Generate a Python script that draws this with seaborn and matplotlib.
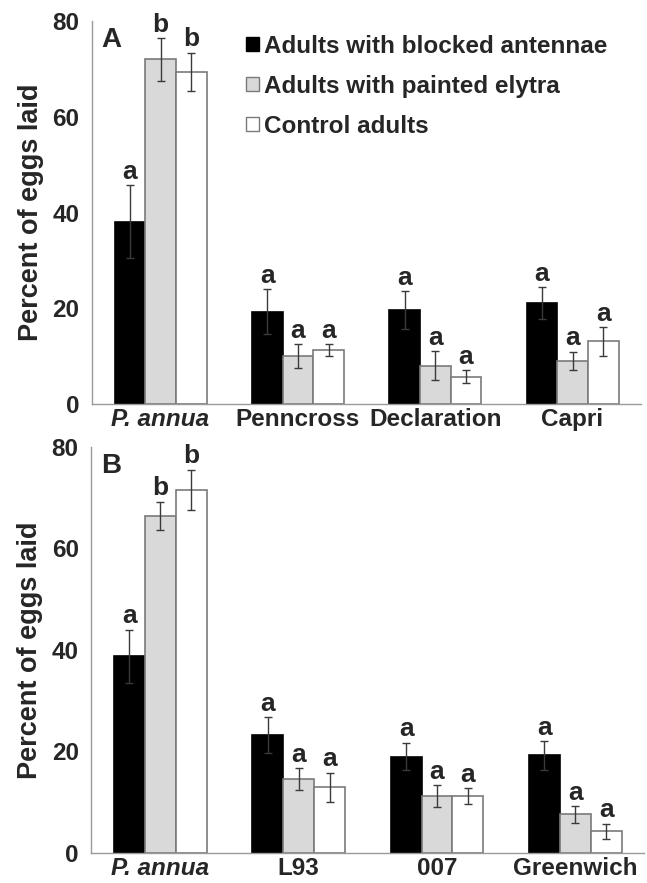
#!/usr/bin/env python3
"""
Percent of eggs laid by treatment and cultivar (panels A and B)
"""

import pandas as pd
import matplotlib
matplotlib.use('Agg')
import matplotlib.pyplot as plt
import seaborn as sns
from matplotlib.patches import Patch

sns.set_style('white')
plt.rcParams['font.family'] = ['Liberation Sans', 'DejaVu Sans']
plt.rcParams['font.weight'] = 'bold'

# 데이터
treatments = ['Adults with blocked antennae', 'Adults with painted elytra', 'Control adults']

cultivars_a = ['P. annua', 'Penncross', 'Declaration', 'Capri']
blocked_a = [38.1, 19.3, 19.6, 21.1]
blocked_a_se = [7.6, 4.7, 4.0, 3.3]
painted_a = [72.0, 10.0, 8.0, 9.0]
painted_a_se = [4.5, 2.5, 3.0, 1.9]
control_a = [69.4, 11.3, 5.7, 13.1]
control_a_se = [4.0, 1.2, 1.4, 3.0]
letters_a = [['a', 'a', 'a', 'a'], ['b', 'a', 'a', 'a'], ['b', 'a', 'a', 'a']]

cultivars_b = ['P. annua', 'L93', '007', 'Greenwich']
blocked_b = [38.7, 23.2, 19.0, 19.2]
blocked_b_se = [5.3, 3.5, 2.7, 2.8]
painted_b = [66.4, 14.6, 11.2, 7.6]
painted_b_se = [2.8, 2.1, 2.2, 1.6]
control_b = [71.5, 12.9, 11.2, 4.3]
control_b_se = [4.0, 2.9, 1.6, 1.5]
letters_b = [['a', 'a', 'a', 'a'], ['b', 'a', 'a', 'a'], ['b', 'a', 'a', 'a']]

fills = ['black', '#d9d9d9', 'white']
edges = ['black', '#7a7a7a', '#7a7a7a']
axis_gray = '#9a9a9a'


def make_frame(cultivars, means, ses):
    rows = []
    for t, vals, errs in zip(treatments, means, ses):
        for c, v, e in zip(cultivars, vals, errs):
            rows.append({'cultivar': c, 'treatment': t, 'pct': v, 'se': e})
    return pd.DataFrame(rows)


def draw_panel(ax, cultivars, means, ses, letters, tag, show_legend):
    df = make_frame(cultivars, means, ses)
    sns.barplot(data=df, x='cultivar', y='pct', hue='treatment',
                order=cultivars, hue_order=treatments,
                palette=dict(zip(treatments, fills)), saturation=1,
                errorbar=None, width=0.67, gap=0, linewidth=1.2,
                legend=False, ax=ax)

    # 막대 테두리, 오차막대, 유의 문자
    for container, edge, errs, lets in zip(ax.containers, edges, ses, letters):
        for bar, se, let in zip(container, errs, lets):
            bar.set_edgecolor(edge)
            x = bar.get_x() + bar.get_width() / 2
            h = bar.get_height()
            ax.errorbar(x, h, yerr=se, fmt='none', ecolor='#3a3a3a',
                        elinewidth=1, capsize=3, capthick=1)
            ax.annotate(let, (x, h + se), xytext=(0, 1), textcoords='offset points',
                        ha='center', va='bottom', fontsize=19, fontweight='bold')

    ax.set_xlim(-0.5, 3.5)
    ax.set_ylim(0, 80)
    ax.set_yticks([0, 20, 40, 60, 80])
    ax.set_yticks([10, 30, 50, 70], minor=True)
    ax.set_xticks(range(len(cultivars)))
    ax.set_xticks([-0.5, 0.5, 1.5, 2.5, 3.5], minor=True)
    ax.set_xticklabels(cultivars, fontsize=17.5, fontweight='bold')
    ax.get_xticklabels()[0].set_style('italic')
    ax.tick_params(axis='x', which='major', length=0, pad=3)
    ax.tick_params(axis='x', which='minor', length=8, width=1, color=axis_gray, direction='out')
    ax.tick_params(axis='y', which='both', length=7, width=1, color=axis_gray,
                   direction='out', labelsize=17.5, pad=2)
    for lab in ax.get_yticklabels():
        lab.set_fontweight('bold')
    ax.set_xlabel('')
    ax.set_ylabel('Percent of eggs laid', fontsize=19.5, fontweight='bold', labelpad=6)

    sns.despine(ax=ax)
    for side in ['left', 'bottom']:
        ax.spines[side].set_color(axis_gray)
        ax.spines[side].set_linewidth(1)

    ax.text(0.018, 0.985, tag, transform=ax.transAxes, ha='left', va='top',
            fontsize=20, fontweight='bold')

    if show_legend:
        handles = [Patch(facecolor=f, edgecolor=e, linewidth=1) for f, e in zip(fills, edges)]
        ax.legend(handles, treatments, loc='upper left', bbox_to_anchor=(0.28, 0.965),
                  frameon=False, prop={'size': 17.5, 'weight': 'bold'},
                  handlelength=0.55, handleheight=0.55, handletextpad=0.2,
                  labelspacing=0.7, borderpad=0, borderaxespad=0)


def main():
    fig = plt.figure(figsize=(6.47, 8.83), dpi=100)
    ax_a = fig.add_axes([0.142, 0.5425, 0.849, 0.4335])
    ax_b = fig.add_axes([0.141, 0.034, 0.855, 0.460])

    draw_panel(ax_a, cultivars_a, [blocked_a, painted_a, control_a],
               [blocked_a_se, painted_a_se, control_a_se], letters_a, 'A', True)
    draw_panel(ax_b, cultivars_b, [blocked_b, painted_b, control_b],
               [blocked_b_se, painted_b_se, control_b_se], letters_b, 'B', False)

    fig.savefig('out.png', dpi=100)


if __name__ == '__main__':
    main()
